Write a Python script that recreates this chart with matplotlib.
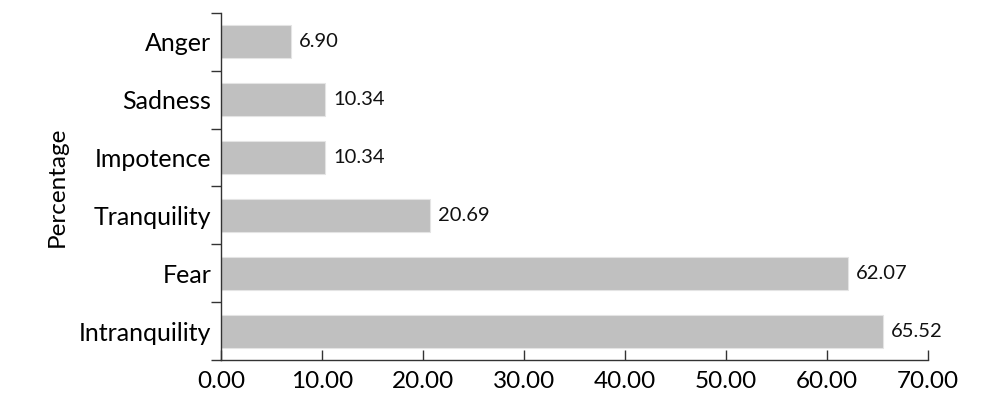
import matplotlib
matplotlib.use("Agg")
import matplotlib.pyplot as plt
import numpy as np

categories = ["Intranquility", "Fear", "Tranquility", "Impotence", "Sadness", "Anger"]
values = [65.52, 62.07, 20.69, 10.34, 10.34, 6.90]
xticks = [0, 10, 20, 30, 40, 50, 60, 70]

plt.rcParams["font.family"] = ["Lato", "DejaVu Sans"]

fig = plt.figure(figsize=(9.9, 4.15), dpi=100)
ax = fig.add_axes([221 / 990, 1 - 360 / 415, (928 - 221) / 990, (360 - 13) / 415])

pos = np.arange(len(categories))
ax.barh(pos, values, height=0.57, color="#c0c0c0", edgecolor="#e4e4e4", linewidth=0.8)
for p, v in zip(pos, values):
    ax.text(v + 0.8, p, f"{v:.2f}", va="center", ha="left", fontsize=14.5, color="#111111")

ax.set_ylim(-0.5, len(categories) - 0.5)
ax.set_xlim(0, 70)
ax.set_xticks(xticks)
ax.set_xticklabels([f"{t:.2f}" for t in xticks], fontsize=17.5)
ax.tick_params(axis="x", direction="in", length=7, width=1, color="#333333", pad=8)

# category labels centred, ticks at band boundaries
ax.set_yticks(pos)
ax.set_yticklabels(categories, fontsize=18)
ax.tick_params(axis="y", which="major", length=0, pad=7)
ax.set_yticks(np.arange(-0.5, len(categories)), minor=True)
ax.tick_params(axis="y", which="minor", direction="out", length=7, width=1, color="#333333")

ax.set_ylabel("Percentage", fontsize=17.5, labelpad=8)

for s in ["top", "right"]:
    ax.spines[s].set_visible(False)
for s in ["left", "bottom"]:
    ax.spines[s].set_color("#333333")
    ax.spines[s].set_linewidth(1)

fig.savefig("out.png", dpi=100)
